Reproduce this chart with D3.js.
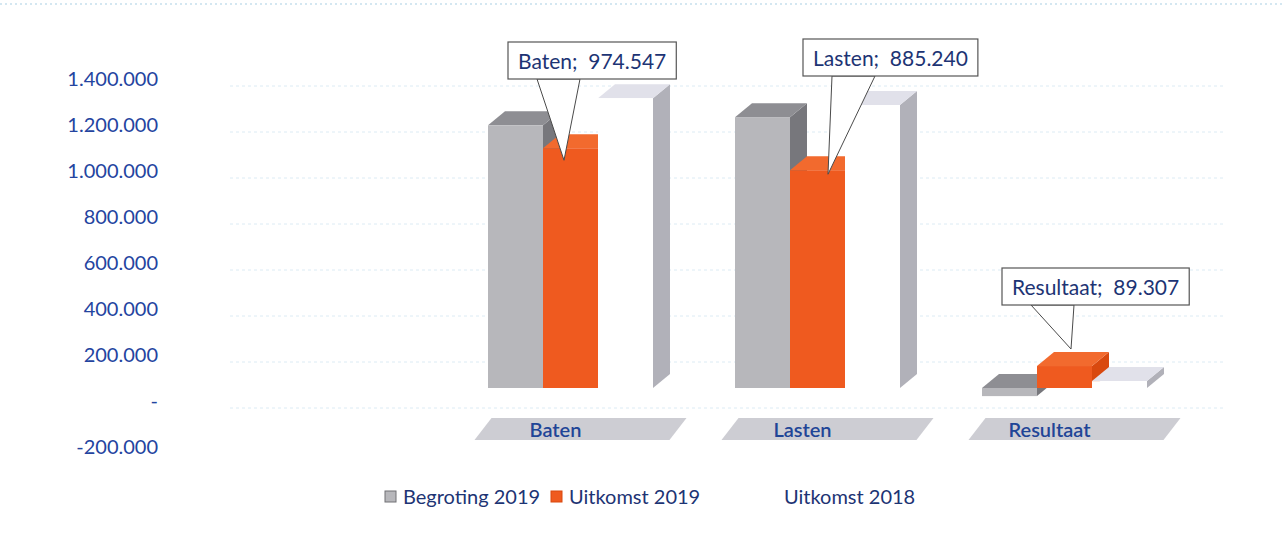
<!DOCTYPE html>
<html>
<head>
<meta charset="utf-8">
<script src="https://cdn.jsdelivr.net/npm/d3@7"></script>
<style>
  html, body { margin: 0; padding: 0; background: #ffffff; }
  #chart { width: 1285px; height: 533px; }
  text { font-family: Lato, "Open Sans", "Liberation Sans", sans-serif; }
</style>
</head>
<body>
<div id="chart"></div>
<script>
// Baten / Lasten / Resultaat — begroting vs uitkomst
const categories = ["Baten", "Lasten", "Resultaat"];
const seriesNames = ["Begroting 2019", "Uitkomst 2019", "Uitkomst 2018"];
const begroting2019 = [1068000, 1101000, -33000];
const uitkomst2019 = [974547, 885240, 89307];
const uitkomst2018 = [1178000, 1150000, 28000];
const yTicks = [-200000, 0, 200000, 400000, 600000, 800000, 1000000, 1200000, 1400000];

const createChart = () => {
    const W = 1285, H = 533;
    const svg = d3.select("#chart").append("svg")
        .attr("width", W).attr("height", H);

    const nl = d3.formatLocale({ decimal: ",", thousands: ".", grouping: [3], currency: ["€", ""], minus: "-" });
    const fmt = nl.format(",.0f");
    const tickFmt = v => v === 0 ? "-" : fmt(v);

    const textBlue = "#2444a0";
    const navy = "#1d3474";

    // 颜色
    const faces = [
        { front: "#b7b7bb", top: "#8e8e93", side: "#77777c" },
        { front: "#ef5a1f", top: "#f26a2e", side: "#d9490f" },
        { front: "#ffffff", top: "#e1e1ea", side: "#b1b1b9" }
    ];
    const seriesValues = [begroting2019, uitkomst2019, uitkomst2018];

    // 比例尺
    const yAxisScale = d3.scaleLinear().domain([-200000, 1400000]).range([446, 78]);
    const yBar = d3.scaleLinear().domain([0, 1000000]).range([388, 142]);
    const x = d3.scaleBand().domain(categories).range([447, 1188])
        .paddingInner(0.332).paddingOuter(0.166);
    const xs = d3.scaleBand().domain(seriesNames).range([0, x.bandwidth()]);
    const dx = 17, dy = 14;

    // 顶部虚线边框
    svg.append("line")
        .attr("x1", 0).attr("x2", W).attr("y1", 4).attr("y2", 4)
        .attr("stroke", "#a9cfe4").attr("stroke-width", 1.2)
        .attr("stroke-dasharray", "2,3");

    // 网格线
    svg.append("g").selectAll("line")
        .data(yTicks.filter(v => v > -200000))
        .join("line")
        .attr("x1", 230).attr("x2", 1225)
        .attr("y1", d => yAxisScale(d) + 8).attr("y2", d => yAxisScale(d) + 8)
        .attr("stroke", "#dcebf4").attr("stroke-width", 1)
        .attr("stroke-dasharray", "3,3");

    // Y轴
    const yAxis = svg.append("g")
        .attr("transform", "translate(158,0)")
        .call(d3.axisLeft(yAxisScale).tickValues(yTicks).tickFormat(tickFmt).tickSize(0).tickPadding(0));
    yAxis.select(".domain").remove();
    yAxis.selectAll("text")
        .style("font-size", "20px")
        .style("font-family", "Lato, 'Open Sans', sans-serif")
        .attr("fill", textBlue)
        .attr("dy", "0.35em");

    // 类别标签底板
    const catG = svg.append("g");
    categories.forEach(c => {
        const cx = x(c) + x.bandwidth() / 2;
        const l = cx - 96, r = cx + 116;
        catG.append("polygon")
            .attr("points", [[l, 440], [l + 17, 418], [r, 418], [r - 17, 440]].map(p => p.join(",")).join(" "))
            .attr("fill", "#c8c8ce")
            .attr("opacity", 0.9);
        catG.append("text")
            .attr("x", cx - 15).attr("y", 437)
            .attr("text-anchor", "middle")
            .style("font-size", "20px")
            .style("font-weight", "600")
            .attr("fill", "#1f4597")
            .text(c);
    });

    // 3D 柱子
    const barG = svg.append("g");
    categories.forEach((c, ci) => {
        seriesNames.forEach((s, si) => {
            const v = seriesValues[si][ci];
            const x0 = x(c) + xs(s), w = xs.bandwidth();
            const yTop = yBar(Math.max(v, 0)), yBot = yBar(Math.min(v, 0));
            const f = faces[si];
            const g = barG.append("g");
            g.append("polygon")
                .attr("points", [[x0 + w, yTop], [x0 + w + dx, yTop - dy], [x0 + w + dx, yBot - dy], [x0 + w, yBot]].map(p => p.join(",")).join(" "))
                .attr("fill", f.side);
            g.append("polygon")
                .attr("points", [[x0, yTop], [x0 + dx, yTop - dy], [x0 + w + dx, yTop - dy], [x0 + w, yTop]].map(p => p.join(",")).join(" "))
                .attr("fill", f.top);
            g.append("rect")
                .attr("x", x0).attr("y", yTop)
                .attr("width", w).attr("height", Math.max(yBot - yTop, 0.5))
                .attr("fill", f.front);
        });
    });

    // 数据标签 (Uitkomst 2019)
    const callouts = [
        { boxX: 508, boxY: 42, tx: 21, ty: 12 },
        { boxX: 803, boxY: 39, tx: 38, ty: 4 },
        { boxX: 1002, boxY: 268, tx: 34, ty: -17 }
    ];
    const labG = svg.append("g");
    categories.forEach((c, ci) => {
        const v = uitkomst2019[ci];
        const lo = callouts[ci];
        const ox = x(c) + xs(seriesNames[1]);
        const target = [ox + lo.tx, yBar(v) + lo.ty];
        const g = labG.append("g");
        const txt = g.append("text")
            .attr("x", lo.boxX + 10).attr("y", lo.boxY + 27)
            .attr("xml:space", "preserve")
            .style("white-space", "pre")
            .style("font-size", "21px")
            .attr("fill", navy)
            .text(`${c};  ${fmt(v)}`);
        const bw = txt.node().getComputedTextLength() + 20;
        const bh = 37;
        g.insert("polygon", "text")
            .attr("points", [[lo.boxX + 29, lo.boxY + bh], target, [lo.boxX + 72, lo.boxY + bh]].map(p => p.join(",")).join(" "))
            .attr("fill", "#ffffff").attr("stroke", "#4a4a4a").attr("stroke-width", 1);
        g.insert("rect", "text")
            .attr("x", lo.boxX).attr("y", lo.boxY)
            .attr("width", bw).attr("height", bh)
            .attr("fill", "#ffffff").attr("stroke", "#555555").attr("stroke-width", 1.2);
    });

    // 图例
    const legendX = [384, 550, 765];
    const lg = svg.append("g");
    seriesNames.forEach((s, i) => {
        const gx = legendX[i];
        if (i < 2) {
            lg.append("rect")
                .attr("x", gx + 1).attr("y", 491)
                .attr("width", 11).attr("height", 11)
                .attr("fill", faces[i].front)
                .attr("stroke", i === 0 ? "#707075" : faces[i].side)
                .attr("stroke-width", 1);
        }
        lg.append("text")
            .attr("x", gx + 19).attr("y", 504)
            .style("font-size", "20px")
            .attr("fill", navy)
            .text(s);
    });
};

if (document.readyState === "loading") {
    document.addEventListener("DOMContentLoaded", createChart);
} else {
    createChart();
}
</script>
</body>
</html>
